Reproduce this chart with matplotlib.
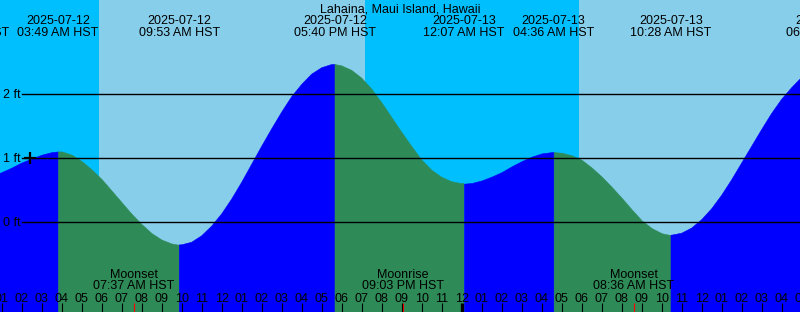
import matplotlib
matplotlib.use('Agg')
import matplotlib.pyplot as plt
import pandas as pd

plt.rcParams['font.family'] = ['Liberation Sans', 'DejaVu Sans']
plt.rcParams['font.size'] = 9

# tide chart data, Lahaina 2025-07-12 .. 07-13
title = 'Lahaina, Maui Island, Hawaii'
start = pd.Timestamp('2025-07-12 00:00')

# highs and lows
tide_times = ['2025-07-11 23:22', '2025-07-12 03:49', '2025-07-12 09:53',
              '2025-07-12 17:40', '2025-07-13 00:07', '2025-07-13 04:36',
              '2025-07-13 10:28', '2025-07-13 18:16']
tide_ft = [0.64, 1.10, -0.35, 2.45, 0.60, 1.09, -0.20, 2.42]

# water level every half hour (hours after midnight 07-12)
curve_hours = [0.5, 1.0, 1.5, 2.0, 2.5, 3.0, 3.5, 4.0, 4.5, 5.0, 5.5, 6.0, 6.5,
               7.0, 7.5, 8.0, 8.5, 9.0, 9.5, 10.0, 10.5, 11.0, 11.5, 12.0, 12.5,
               13.0, 13.5, 14.0, 14.5, 15.0, 15.5, 16.0, 16.5, 17.0, 17.5, 18.0,
               18.5, 19.0, 19.5, 20.0, 20.5, 21.0, 21.5, 22.0, 22.5, 23.0, 23.5,
               24.0, 24.5, 25.0, 25.5, 26.0, 26.5, 27.0, 27.5, 28.0, 28.5, 29.0,
               29.5, 30.0, 30.5, 31.0, 31.5, 32.0, 32.5, 33.0, 33.5, 34.0, 34.5,
               35.0, 35.5, 36.0, 36.5, 37.0, 37.5, 38.0, 38.5, 39.0, 39.5, 40.0,
               40.5, 41.0]
curve_ft = [0.71, 0.78, 0.85, 0.93, 0.99, 1.05, 1.09, 1.10, 1.05, 0.95, 0.82, 0.67,
            0.49, 0.31, 0.13, -0.03, -0.17, -0.27, -0.33, -0.35, -0.31, -0.21,
            -0.06, 0.13, 0.36, 0.62, 0.90, 1.18, 1.45, 1.71, 1.95, 2.14, 2.30,
            2.40, 2.45, 2.43, 2.36, 2.24, 2.07, 1.86, 1.63, 1.40, 1.18, 0.97,
            0.81, 0.70, 0.63, 0.60, 0.61, 0.65, 0.71, 0.78, 0.87, 0.95, 1.02,
            1.07, 1.09, 1.08, 1.04, 0.97, 0.85, 0.71, 0.55, 0.38, 0.20, 0.03,
            -0.09, -0.17, -0.20, -0.17, -0.09, 0.04, 0.21, 0.42, 0.66, 0.92,
            1.18, 1.44, 1.69, 1.91, 2.09, 2.25]

sun_times = ['2025-07-12 05:52', '2025-07-12 19:10', '2025-07-13 05:52']
moon_times = ['2025-07-12 07:37', '2025-07-12 21:03', '2025-07-13 08:36']
moon_names = ['Moonset', 'Moonrise', 'Moonset']
level_lines = [0, 1, 2]


def hrs(s):
    return (pd.Timestamp(s) - start).total_seconds() / 3600


tide_h = [hrs(s) for s in tide_times]
pts = sorted(zip(curve_hours + tide_h, curve_ft + tide_ft))
t_all = [p[0] for p in pts]
f_all = [p[1] for p in pts]

H = 312.0
x0, x1 = 0.9167, 40.9167
y0, y1 = -1.393, 3.452

fig = plt.figure(figsize=(8, 3.12), dpi=100)
ax = fig.add_axes([0, 0, 1, 1])
ax.set_xlim(x0, x1)
ax.set_ylim(y0, y1)
ax.axis('off')

# day / night
sun_h = [hrs(s) for s in sun_times]
edges = [x0 - 1] + sun_h + [x1 + 1]
for i in range(len(edges) - 1):
    col = '#00BFFF' if i % 2 == 0 else '#87CEEB'
    ax.axvspan(edges[i], edges[i + 1], color=col, lw=0, zorder=0)

# water, blue while rising, green while falling
for i in range(len(tide_h) - 1):
    seg = [(t, f) for t, f in zip(t_all, f_all) if tide_h[i] <= t <= tide_h[i + 1]]
    col = '#0000FF' if tide_ft[i + 1] > tide_ft[i] else '#2E8B57'
    ax.fill_between([s[0] for s in seg], -3, [s[1] for s in seg],
                    color=col, lw=0.4, zorder=1)

# level lines
trans_y = ax.get_yaxis_transform()
for lv in level_lines:
    ax.axhline(lv, xmin=22 / 800, color='k', lw=1.0, zorder=2)
    ax.text(3 / 800, lv - 4 / 64.4, '%d ft' % lv, transform=trans_y,
            ha='left', va='baseline', zorder=3)

ax.plot(2.42, 1.0, marker='+', ms=9, mew=1.6, color='k', zorder=3)

trans_x = ax.get_xaxis_transform()
ax.text((x0 + x1) / 2, 1 - 12.5 / H, title, transform=trans_x,
        ha='center', va='baseline')

# high / low labels
for s in tide_times:
    ts = pd.Timestamp(s)
    x = hrs(s)
    ax.text(x, 1 - 24 / H, ts.strftime('%Y-%m-%d'), transform=trans_x,
            ha='center', va='baseline', zorder=3)
    ax.text(x, 1 - 36 / H, ts.strftime('%I:%M %p HST'), transform=trans_x,
            ha='center', va='baseline', zorder=3)

# moon events
for s, name in zip(moon_times, moon_names):
    x = hrs(s)
    ax.text(x, 1 - 278 / H, name, transform=trans_x, ha='center', va='baseline', zorder=3)
    ax.text(x, 1 - 289 / H, pd.Timestamp(s).strftime('%I:%M %p HST'),
            transform=trans_x, ha='center', va='baseline', zorder=3)
    ax.vlines(x, 0, 9 / H, color='#FF0000', lw=0.8, transform=trans_x, zorder=3)

# hour labels and ticks
for h in range(1, 42):
    lab = '%02d' % (h % 12 if h % 12 else 12)
    ax.text(h, 1 - 302 / H, lab, transform=trans_x, ha='center', va='baseline', zorder=3)
    lw = 2.4 if h % 24 == 0 else 0.8
    ax.vlines(h, 0, 9 / H, color='k', lw=lw, transform=trans_x, zorder=3)

fig.savefig('out.png', dpi=100)
